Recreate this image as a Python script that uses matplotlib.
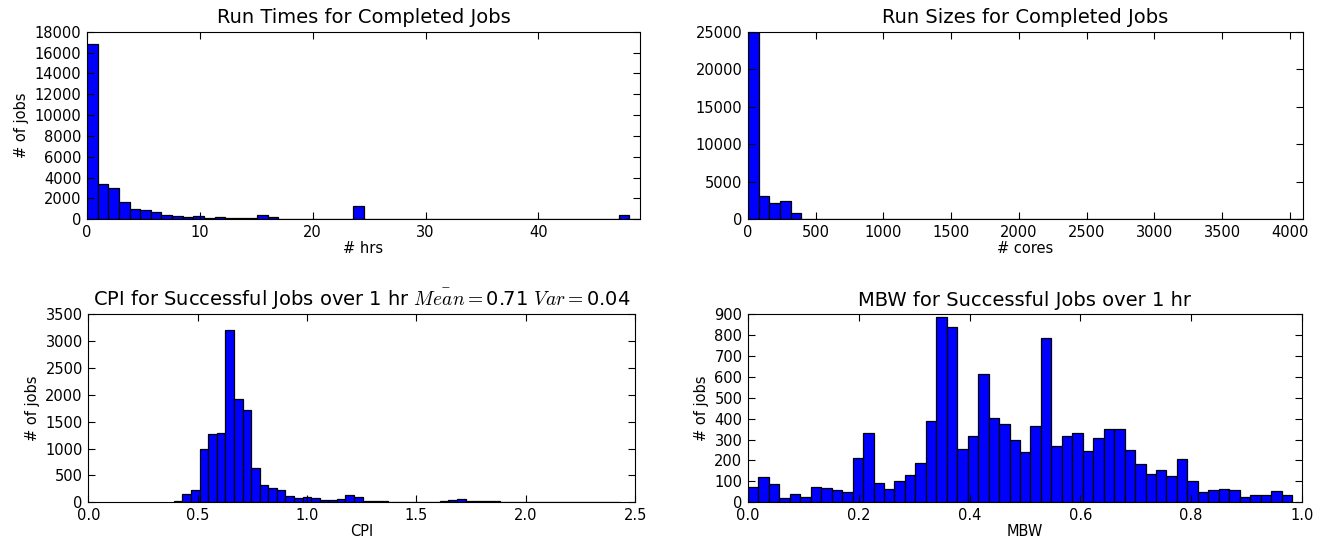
import numpy as np
import matplotlib
matplotlib.use('Agg')
import matplotlib.pyplot as plt
from matplotlib.ticker import MultipleLocator

plt.rcParams['font.family'] = 'DejaVu Sans'
plt.rcParams['mathtext.fontset'] = 'cm'

# Run times for completed jobs (hrs), 52 bins
hrs_range = (0, 49)
hrs_counts = [16850, 3400, 3000, 1700, 1020, 930, 670, 450, 340, 250,
              360, 130, 250, 160, 150, 150, 380, 180, 60, 60,
              60, 60, 60, 60, 60, 1300, 10, 8, 6, 5,
              5, 5, 5, 5, 5, 5, 5, 5, 5, 5,
              5, 5, 40, 5, 5, 5, 5, 5, 5, 5,
              460, 5]

# Run sizes for completed jobs (cores), 52 bins
cores_range = (0, 4096)
cores_counts = [24900, 3150, 2220, 2490, 800, 10, 80, 10, 100, 5,
                5, 5, 5, 3, 3, 3, 3, 3, 3, 3,
                3, 3, 3, 3, 3, 3, 3, 3, 3, 3,
                3, 3, 3, 3, 3, 3, 3, 3, 3, 3,
                3, 3, 3, 3, 3, 3, 3, 3, 3, 3,
                3, 3]

# CPI for successful jobs over 1 hr, 52 bins
cpi_range = (0.391, 2.431)
cpi_counts = [20, 160, 235, 985, 1265, 1285, 3200, 1925, 1720, 635,
              330, 272, 222, 111, 74, 93, 74, 37, 37, 55,
              130, 93, 31, 31, 15, 10, 10, 10, 10, 10,
              2, 20, 40, 55, 20, 15, 15, 15, 1, 1,
              1, 1, 1, 1, 1, 1, 1, 1, 1, 1,
              1, 1]
cpi_mean = 0.71
cpi_var = 0.04

# MBW for successful jobs over 1 hr, 52 bins
mbw_range = (0, 0.982)
mbw_counts = [75, 123, 86, 20, 40, 27, 75, 70, 57, 51,
              212, 330, 94, 62, 104, 132, 188, 390, 887, 839,
              255, 318, 615, 404, 376, 296, 240, 365, 785, 270,
              315, 333, 245, 305, 350, 350, 250, 185, 135, 155,
              125, 205, 100, 50, 60, 65, 60, 25, 35, 35,
              55, 35]

TITLE_FS = 14
TICK_FS = 10.5
LABEL_FS = 10.5


def draw_hist(ax, rng, counts):
    edges = np.linspace(rng[0], rng[1], len(counts) + 1)
    ax.bar(edges[:-1], counts, width=np.diff(edges), align='edge',
           color='#0000ff', edgecolor='black', linewidth=0.9)
    ax.tick_params(direction='in', top=True, right=True, length=5,
                   labelsize=TICK_FS, pad=4)


fig = plt.figure(figsize=(13.25, 5.39), dpi=100)
ax1 = fig.add_axes([0.0657, 0.5931, 0.4173, 0.3481])
ax2 = fig.add_axes([0.5645, 0.5931, 0.4189, 0.3481])
ax3 = fig.add_axes([0.0667, 0.0681, 0.4126, 0.3493])
ax4 = fig.add_axes([0.5645, 0.0681, 0.4181, 0.3493])

draw_hist(ax1, hrs_range, hrs_counts)
ax1.set_xlim(0, 49)
ax1.set_ylim(0, 18000)
ax1.xaxis.set_major_locator(MultipleLocator(10))
ax1.yaxis.set_major_locator(MultipleLocator(2000))
ax1.set_title('Run Times for Completed Jobs', fontsize=TITLE_FS)
ax1.set_xlabel('# hrs', fontsize=LABEL_FS, labelpad=1)
ax1.set_ylabel('# of jobs', fontsize=LABEL_FS)

draw_hist(ax2, cores_range, cores_counts)
ax2.set_xlim(0, 4096)
ax2.set_ylim(0, 25000)
ax2.xaxis.set_major_locator(MultipleLocator(500))
ax2.yaxis.set_major_locator(MultipleLocator(5000))
ax2.set_title('Run Sizes for Completed Jobs', fontsize=TITLE_FS)
ax2.set_xlabel('# cores', fontsize=LABEL_FS, labelpad=1)

draw_hist(ax3, cpi_range, cpi_counts)
ax3.set_xlim(0, 2.5)
ax3.set_ylim(0, 3500)
ax3.xaxis.set_major_locator(MultipleLocator(0.5))
ax3.yaxis.set_major_locator(MultipleLocator(500))
ax3.set_title('CPI for Successful Jobs over 1 hr $\\bar{Mean}=$%.2f $Var=$%.2f'
              % (cpi_mean, cpi_var), fontsize=TITLE_FS)
ax3.set_xlabel('CPI', fontsize=LABEL_FS, labelpad=1)
ax3.set_ylabel('# of jobs', fontsize=LABEL_FS)

draw_hist(ax4, mbw_range, mbw_counts)
ax4.set_xlim(0, 1.0)
ax4.set_ylim(0, 900)
ax4.xaxis.set_major_locator(MultipleLocator(0.2))
ax4.yaxis.set_major_locator(MultipleLocator(100))
ax4.set_title('MBW for Successful Jobs over 1 hr', fontsize=TITLE_FS)
ax4.set_xlabel('MBW', fontsize=LABEL_FS, labelpad=1)
ax4.set_ylabel('# of jobs', fontsize=LABEL_FS)

fig.savefig('out.png', dpi=100)
